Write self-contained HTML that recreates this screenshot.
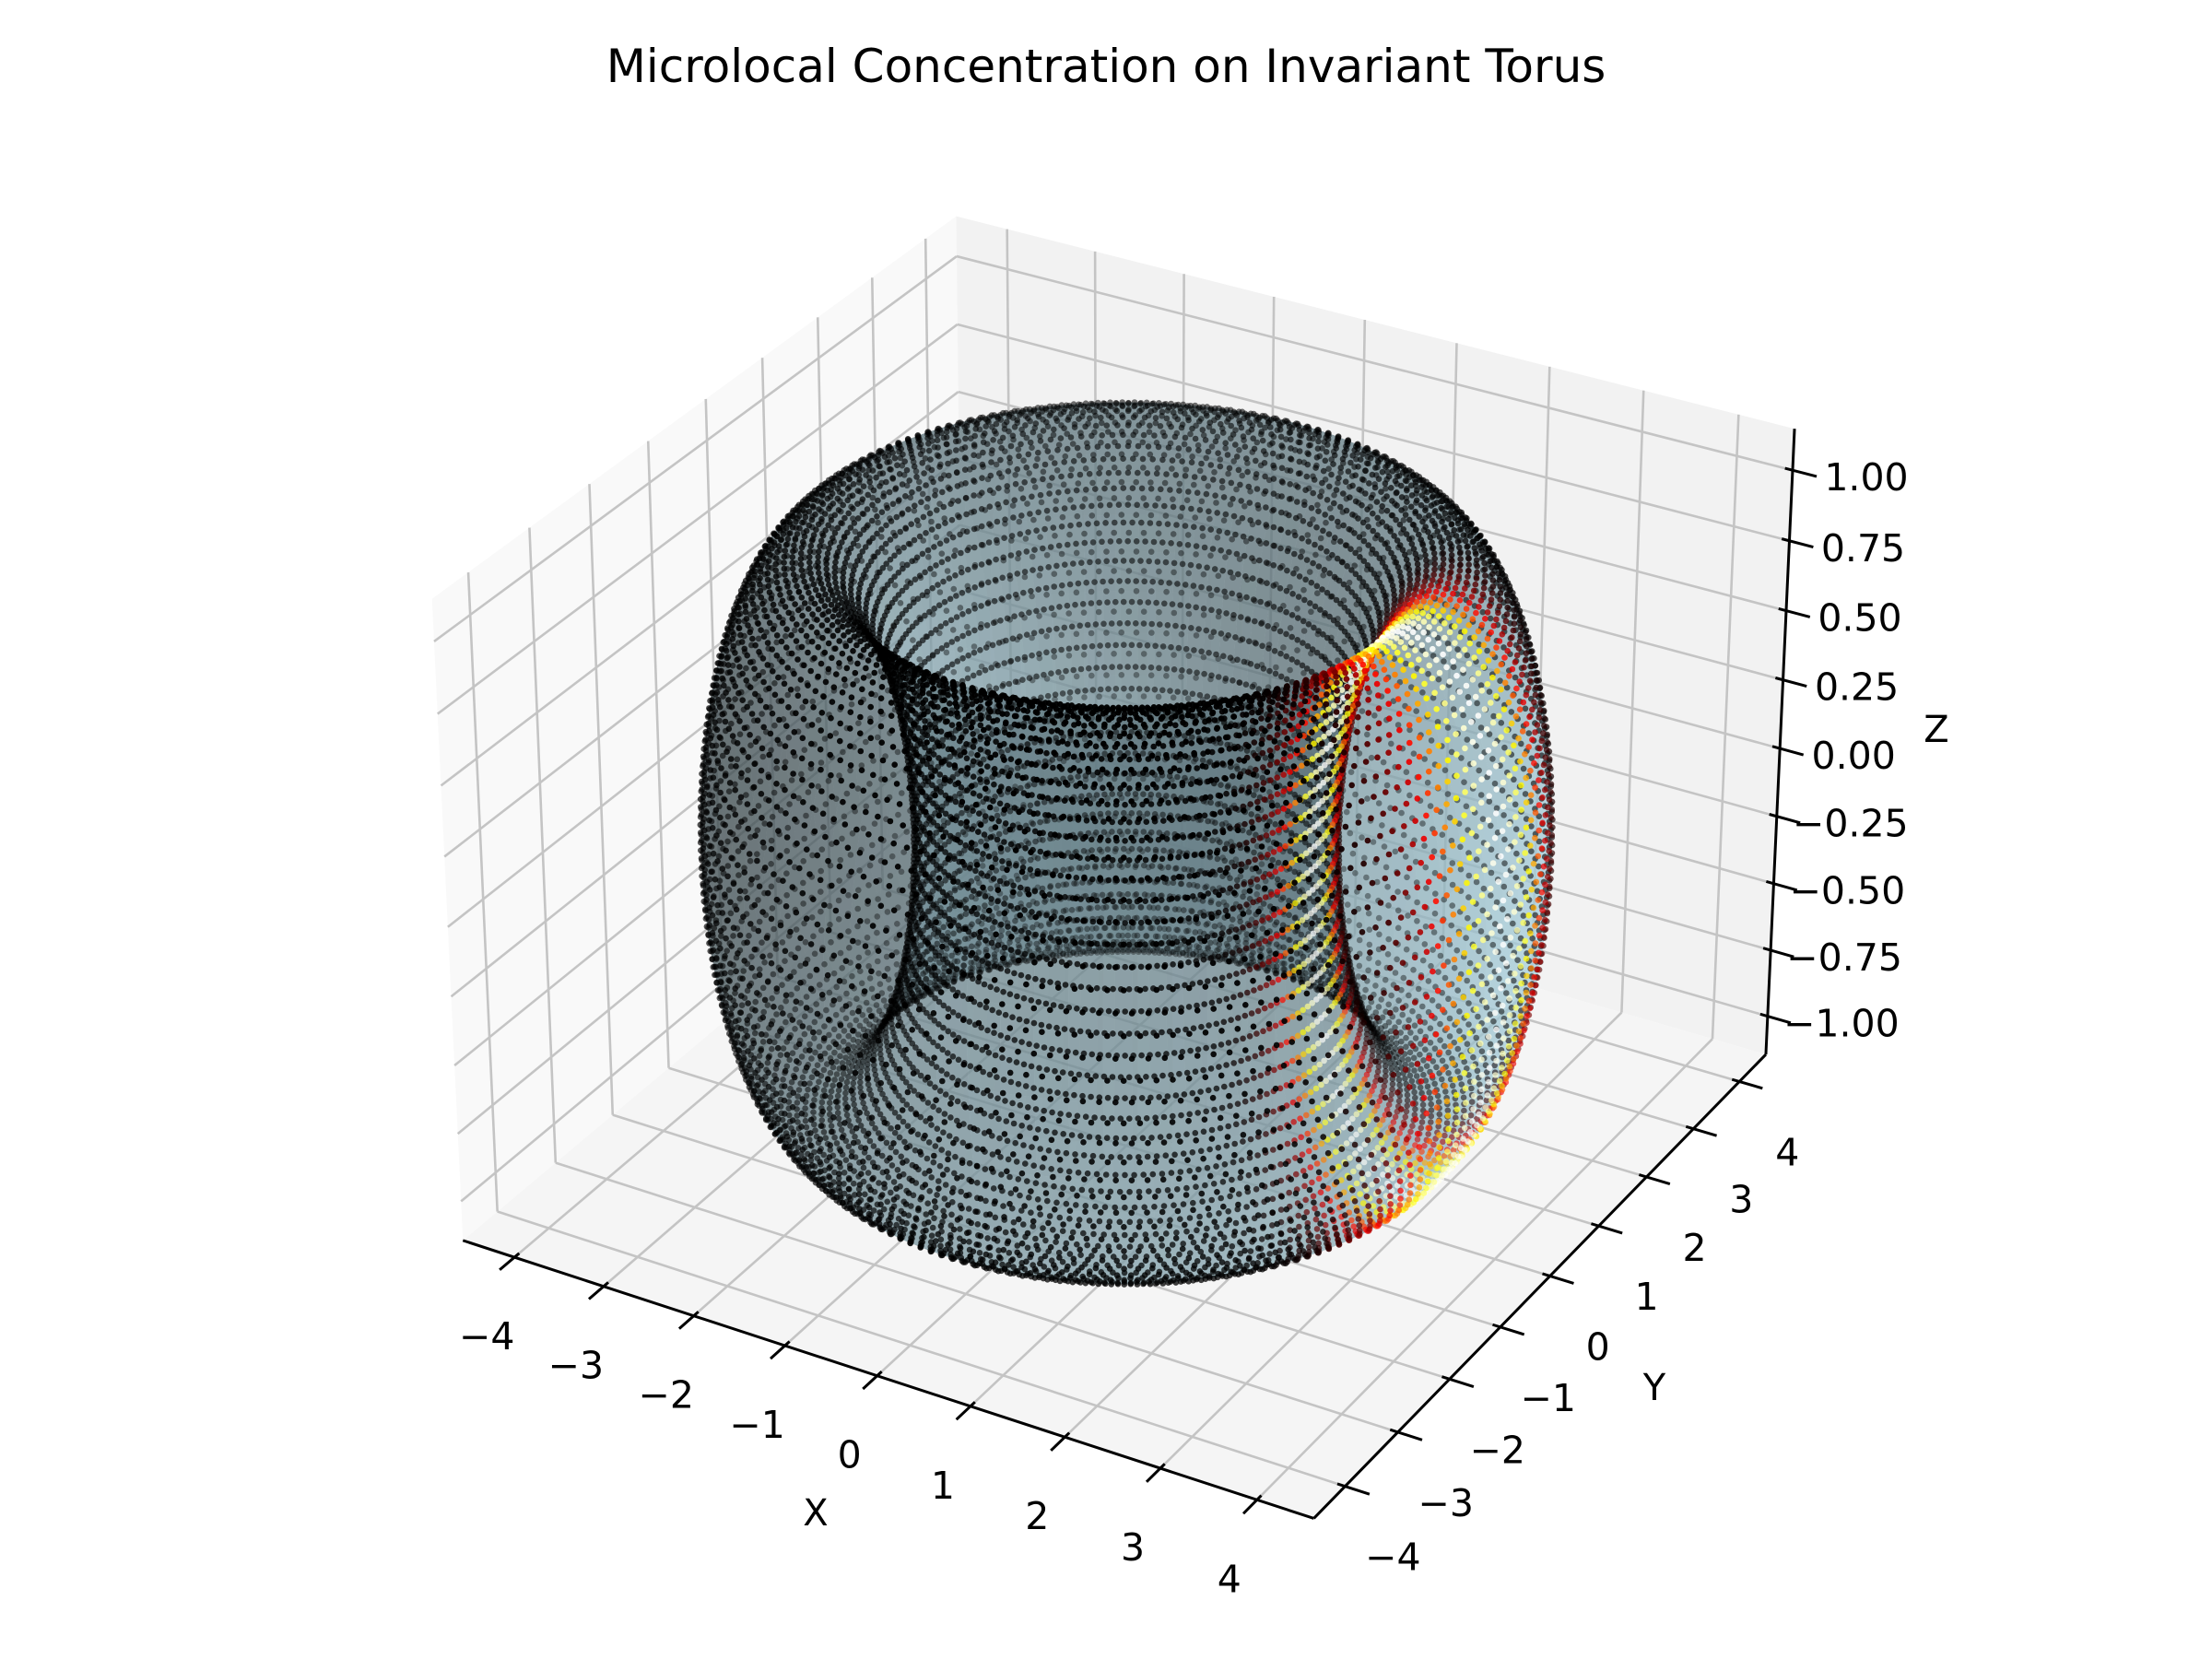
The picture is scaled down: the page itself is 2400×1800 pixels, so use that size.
<!DOCTYPE html>
<html><head><meta charset="utf-8">
<style>
html,body{margin:0;padding:0;background:#fff;}
svg{display:block;font-family:"DejaVu Sans","Liberation Sans",sans-serif;}
</style></head>
<body>
<svg id="chart" width="2400" height="1800" viewBox="0 0 2400 1800" xmlns="http://www.w3.org/2000/svg">
<rect width="2400" height="1800" fill="#ffffff"/>
<text x="1200" y="89" font-size="50" text-anchor="middle" fill="#000">Microlocal Concentration on Invariant Torus</text>
<g id="panes"></g>
<g id="grid"></g>
<g id="surface"></g>
<g id="points"></g>
<g id="axes"></g>
<g id="labels"></g>
<text x="885" y="1655" font-size="40" text-anchor="middle">X</text>
<text x="1795" y="1519" font-size="40" text-anchor="middle">Y</text>
<text x="2101" y="805" font-size="40" text-anchor="middle">Z</text>
</svg>
<script>
const xTicks = [-4,-3,-2,-1,0,1,2,3,4];
const yTicks = [-4,-3,-2,-1,0,1,2,3,4];
const zTicks = [-1,-0.75,-0.5,-0.25,0,0.25,0.5,0.75,1];
const xTickLabels = ["−4","−3","−2","−1","0","1","2","3","4"];
const yTickLabels = ["−4","−3","−2","−1","0","1","2","3","4"];
const zTickLabels = ["−1.00","−0.75","−0.50","−0.25","0.00","0.25","0.50","0.75","1.00"];
const dataLimitsX = [-4.4, 4.4];
const dataLimitsY = [-4.4, 4.4];
const dataLimitsZ = [-1.1, 1.1];
const torusRadii = [3, 1];
const concentrationCenter = [0];
const concentrationWidth = [0.19];
const pointCounts = [170, 80];
const surfaceCounts = [80, 40];

const NS = "http://www.w3.org/2000/svg";
function mk(tag, parent){const e=document.createElementNS(NS,tag);parent.appendChild(e);return e;}

const asp=[4,4,3].map(v=>v*1.8294640721620434/Math.sqrt(41));
const el=30*Math.PI/180, az=-60*Math.PI/180;
const Rc=asp.map(v=>v/2);
const ps=[Math.cos(el)*Math.cos(az),Math.cos(el)*Math.sin(az),Math.sin(el)];
const eye=Rc.map((v,i)=>v+10*ps[i]);
const w=ps.slice();
function cross(a,b){return [a[1]*b[2]-a[2]*b[1],a[2]*b[0]-a[0]*b[2],a[0]*b[1]-a[1]*b[0]];}
function norm(a){const n=Math.hypot(a[0],a[1],a[2]);return a.map(v=>v/n);}
function dot(a,b){return a[0]*b[0]+a[1]*b[1]+a[2]*b[2];}
const uu=norm(cross([0,0,1],w)); const vv=cross(w,uu);
function raw(x,y,z){
  const p=[(x-dataLimitsX[0])/(dataLimitsX[1]-dataLimitsX[0])*asp[0],
           (y-dataLimitsY[0])/(dataLimitsY[1]-dataLimitsY[0])*asp[1],
           (z-dataLimitsZ[0])/(dataLimitsZ[1]-dataLimitsZ[0])*asp[2]];
  const d=[p[0]-eye[0],p[1]-eye[1],p[2]-eye[2]];
  const zv=-dot(d,w);
  return [dot(d,uu)/zv, dot(d,vv)/zv, zv];
}
const dX=(dataLimitsX[1]-dataLimitsX[0])/48, dY=(dataLimitsY[1]-dataLimitsY[0])/48, dZ=(dataLimitsZ[1]-dataLimitsZ[0])/48;
const X0=dataLimitsX[0]-dX, X1=dataLimitsX[1]+dX, Y0=dataLimitsY[0]-dY, Y1=dataLimitsY[1]+dY, Z0=dataLimitsZ[0]-dZ, Z1=dataLimitsZ[1]+dZ;
const calib=[[X1,Y0,Z0,1431,1650],[X0,Y0,Z0,500,1347],[X1,Y1,Z0,1913,1140],[X0,Y1,Z1,1036,237],[X0,Y0,Z1,470,646],[X1,Y1,Z1,1947,467]];
function fit(idx,col){let n=0,sx=0,sy=0,sxx=0,sxy=0;calib.forEach(c=>{const r=raw(c[0],c[1],c[2])[idx];n++;sx+=r;sy+=c[col];sxx+=r*r;sxy+=r*c[col];});const a=(n*sxy-sx*sy)/(n*sxx-sx*sx);return [a,(sy-a*sx)/n];}
const fx=fit(0,3), fy=fit(1,4);
function P(x,y,z){const r=raw(x,y,z);return [fx[0]*r[0]+fx[1], fy[0]*r[1]+fy[1], r[2]];}

const panes=document.getElementById('panes');
function poly(parent,pts,fill,name){const e=mk('polygon',parent);e.setAttribute('points',pts.map(p=>{const q=P(...p);return q[0].toFixed(1)+','+q[1].toFixed(1);}).join(' '));e.setAttribute('fill',fill);


return e;}
poly(panes,[[X0,Y0,Z0],[X0,Y1,Z0],[X0,Y1,Z1],[X0,Y0,Z1]],'#f9f9f9','x-pane');
poly(panes,[[X0,Y1,Z0],[X1,Y1,Z0],[X1,Y1,Z1],[X0,Y1,Z1]],'#f2f2f2','y-pane');
poly(panes,[[X0,Y0,Z0],[X1,Y0,Z0],[X1,Y1,Z0],[X0,Y1,Z0]],'#f5f5f5','z-pane');

function line(parent,a,b,color,wd,name){const p=P(...a),q=P(...b);const e=mk('line',parent);e.setAttribute('x1',p[0]);e.setAttribute('y1',p[1]);e.setAttribute('x2',q[0]);e.setAttribute('y2',q[1]);e.setAttribute('stroke',color);e.setAttribute('stroke-width',wd);


return e;}
const grid=document.getElementById('grid');
xTicks.forEach(t=>{line(grid,[t,Y0,Z0],[t,Y1,Z0],'#c4c4c4',2.6,'x-gridline');line(grid,[t,Y1,Z0],[t,Y1,Z1],'#c4c4c4',2.6,'x-gridline');});
yTicks.forEach(t=>{line(grid,[X0,t,Z0],[X1,t,Z0],'#c4c4c4',2.6,'y-gridline');line(grid,[X0,t,Z0],[X0,t,Z1],'#c4c4c4',2.6,'y-gridline');});
zTicks.forEach(t=>{line(grid,[X0,Y0,t],[X0,Y1,t],'#c4c4c4',2.6,'z-gridline');line(grid,[X0,Y1,t],[X1,Y1,t],'#c4c4c4',2.6,'z-gridline');});

const RM=torusRadii[0], rm=torusRadii[1];
function tor(th,ph){return [(RM+rm*Math.cos(th))*Math.cos(ph),(RM+rm*Math.cos(th))*Math.sin(ph),rm*Math.sin(th)];}
const L=[-0.6667,-0.6667,0.3333];
const quads=[];
const NTs=surfaceCounts[1], NPs=surfaceCounts[0];
for(let i=0;i<NTs;i++)for(let j=0;j<NPs;j++){
  const t0=2*Math.PI*i/NTs,t1=2*Math.PI*(i+1)/NTs,p0=2*Math.PI*j/NPs,p1=2*Math.PI*(j+1)/NPs;
  const c=[tor(t0,p0),tor(t1,p0),tor(t1,p1),tor(t0,p1)];
  const tm=(t0+t1)/2, pm=(p0+p1)/2;
  const n=[-Math.cos(tm)*Math.cos(pm),-Math.cos(tm)*Math.sin(pm),-Math.sin(tm)];
  const s=0.3+0.7*(dot(n,L)+1)/2;
  const pr=c.map(p=>P(...p));
  const depth=pr.reduce((a,b)=>a+b[2],0)/4;
  quads.push({pr,s,depth});
}
quads.sort((a,b)=>b.depth-a.depth);
const surf=document.getElementById('surface');
quads.forEach(q=>{const e=mk('polygon',surf);e.setAttribute('points',q.pr.map(p=>p[0].toFixed(1)+','+p[1].toFixed(1)).join(' '));
e.setAttribute('fill','rgb('+Math.round(173*q.s)+','+Math.round(216*q.s)+','+Math.round(230*q.s)+')');e.setAttribute('fill-opacity','0.5');


});

function hot(x){x=Math.max(0,Math.min(1,x));const r=Math.min(1,x*8/3),g=Math.max(0,Math.min(1,x*8/3-1)),b=Math.max(0,Math.min(1,4*x-3));return 'rgb('+Math.round(r*255)+','+Math.round(g*255)+','+Math.round(b*255)+')';}
const pts=[];
const NP=pointCounts[0], NT=pointCounts[1];
for(let i=0;i<NT;i++)for(let j=0;j<NP;j++){
  const th=2*Math.PI*i/NT, ph=2*Math.PI*(j+0.5*(i%2))/NP;
  let dp=ph-concentrationCenter[0]; dp=Math.atan2(Math.sin(dp),Math.cos(dp));
  const val=Math.exp(-dp*dp/(2*concentrationWidth[0]*concentrationWidth[0]));
  const p=P(...tor(th,ph));
  pts.push({p,val});
}
let dmin=Infinity,dmax=-Infinity;pts.forEach(o=>{dmin=Math.min(dmin,o.p[2]);dmax=Math.max(dmax,o.p[2]);});
pts.sort((a,b)=>b.p[2]-a.p[2]);
const pg=document.getElementById('points');
pts.forEach(o=>{const c=mk('circle',pg);c.setAttribute('cx',o.p[0].toFixed(1));c.setAttribute('cy',o.p[1].toFixed(1));c.setAttribute('r','3.3');
c.setAttribute('fill',hot(o.val));c.setAttribute('fill-opacity',(1-0.7*(o.p[2]-dmin)/(dmax-dmin)).toFixed(3));


});

const ax=document.getElementById('axes'), lb=document.getElementById('labels');
line(ax,[X0,Y0,Z0],[X1,Y0,Z0],'#000',3,'x-axis-line');
line(ax,[X1,Y0,Z0],[X1,Y1,Z0],'#000',3,'y-axis-line');
line(ax,[X1,Y1,Z0],[X1,Y1,Z1],'#000',3,'z-axis-line');
function label(x,y,txt,name){const e=mk('text',lb);e.setAttribute('x',x.toFixed(1));e.setAttribute('y',y.toFixed(1));e.setAttribute('font-size','41');e.setAttribute('text-anchor','middle');e.setAttribute('dominant-baseline','central');e.textContent=txt;


}
xTicks.forEach((t,k)=>{line(ax,[t,Y0+0.08,Z0],[t,Y0-0.25,Z0],'#000',3,'x-tick');const p=P(t,Y0,Z0);label(p[0]-30,p[1]+86,xTickLabels[k],'x-tick-label');});
yTicks.forEach((t,k)=>{line(ax,[X1-0.08,t,Z0],[X1+0.25,t,Z0],'#000',3,'y-tick');const p=P(X1,t,Z0);label(p[0]+52,p[1]+77,yTickLabels[k],'y-tick-label');});
zTicks.forEach((t,k)=>{line(ax,[X1-0.08,Y1,t],[X1+0.25,Y1,t],'#000',3,'z-tick');const p=P(X1,Y1,t);label(p[0]+80,p[1]+8,zTickLabels[k],'z-tick-label');});
</script>
</body></html>
